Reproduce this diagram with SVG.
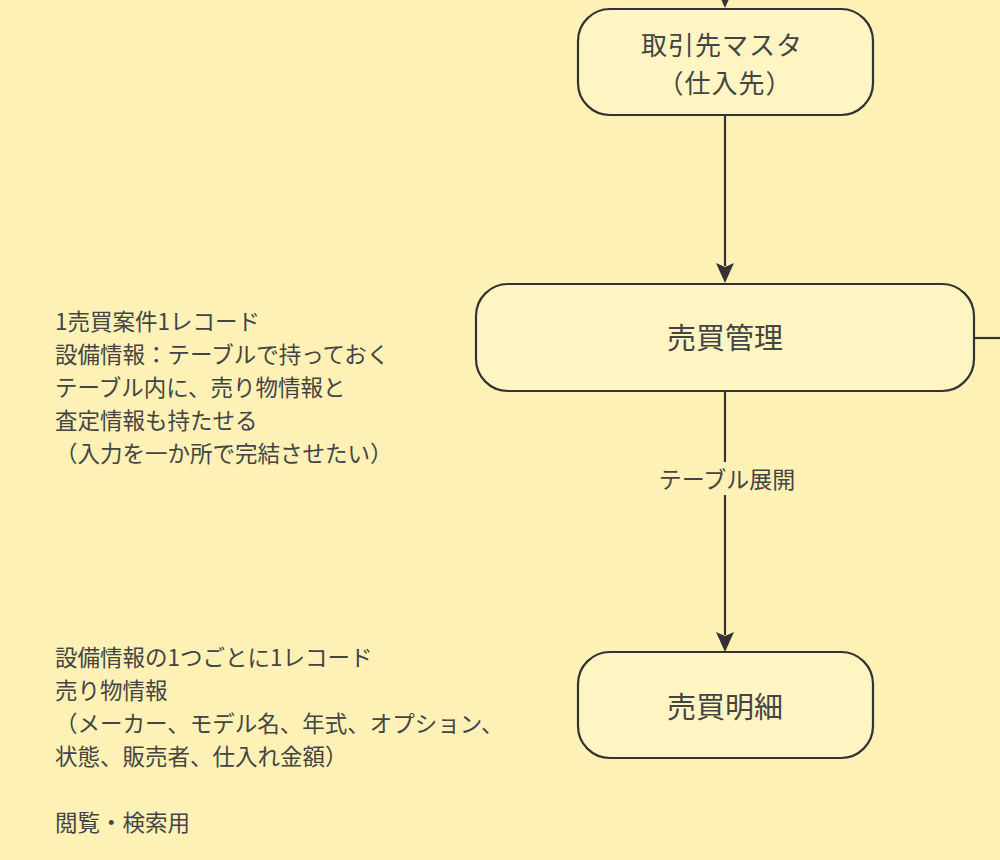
<svg xmlns="http://www.w3.org/2000/svg" width="1000" height="860" viewBox="0 0 1000 860">
  <style>
    .node { fill: #fff5c2; stroke: #333333; stroke-width: 2.2; }
    .ntext { font-family: "Noto Sans CJK JP", "Noto Sans", sans-serif; font-size: 29px; fill: #444444; text-anchor: middle; dominant-baseline: central; }
    .ntext2 { font-family: "Noto Sans CJK JP", "Noto Sans", sans-serif; font-size: 26px; letter-spacing: 1px; fill: #444444; text-anchor: middle; dominant-baseline: central; }
    .note { font-family: "Noto Sans CJK JP", "Noto Sans", sans-serif; font-size: 22.5px; fill: #444444; }
    .elabel { font-family: "Noto Sans CJK JP", "Noto Sans", sans-serif; font-size: 23px; fill: #444444; text-anchor: middle; dominant-baseline: central; }
    .edge { fill: none; stroke: #333333; stroke-width: 2.2; }
    .head { fill: #333333; }
  </style>
  <rect x="0" y="0" width="1000" height="860" fill="#fdf1b6"/>

  <g id="connectors">
    <line class="edge" x1="725" y1="-40" x2="725" y2="-4"/>
    <path class="head" d="M716,-12 L725,-8 L734,-12 L725,8 Z"/>
    <line class="edge" x1="725" y1="115" x2="725" y2="266"/>
    <path class="head" d="M716,263 L725,267 L734,263 L725,283 Z"/>
    <line class="edge" x1="725" y1="391" x2="725" y2="462"/>
    <line class="edge" x1="725" y1="495" x2="725" y2="635"/>
    <path class="head" d="M716,632 L725,636 L734,632 L725,652 Z"/>
    <text class="elabel" x="727" y="478">テーブル展開</text>
    <line class="edge" x1="974" y1="338" x2="1000" y2="338"/>
  </g>

  <g id="node-torihikisaki">
    <rect class="node" x="578" y="9" width="295" height="106" rx="32" ry="32"/>
    <text class="ntext2" x="722" y="43">取引先マスタ</text>
    <text class="ntext2" x="725" y="81">（仕入先）</text>
  </g>

  <g id="node-baibai-kanri">
    <rect class="node" x="476" y="284" width="498" height="107" rx="32" ry="32"/>
    <text class="ntext" x="725" y="336">売買管理</text>
  </g>

  <g id="node-baibai-meisai">
    <rect class="node" x="578" y="652" width="295" height="106" rx="32" ry="32"/>
    <text class="ntext" x="725" y="705">売買明細</text>
  </g>

  <g id="note-kanri">
    <text class="note" x="55" y="330">1売買案件1レコード</text>
    <text class="note" x="55" y="363">設備情報：テーブルで持っておく</text>
    <text class="note" x="55" y="396">テーブル内に、売り物情報と</text>
    <text class="note" x="55" y="429">査定情報も持たせる</text>
    <text class="note" x="55" y="462">（入力を一か所で完結させたい）</text>
  </g>

  <g id="note-meisai">
    <text class="note" x="55" y="666">設備情報の1つごとに1レコード</text>
    <text class="note" x="55" y="699">売り物情報</text>
    <text class="note" x="55" y="732">（メーカー、モデル名、年式、オプション、</text>
    <text class="note" x="55" y="765">状態、販売者、仕入れ金額）</text>
    <text class="note" x="55" y="831">閲覧・検索用</text>
  </g>
</svg>
